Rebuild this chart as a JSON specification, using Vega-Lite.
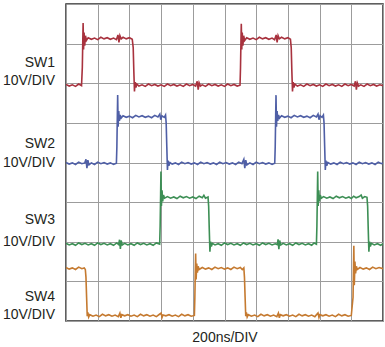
{
"$schema": "https://vega.github.io/schema/vega-lite/v6.json",
"width": 317, "height": 317,
"autosize": {"type": "none"},
"padding": {"left": 66, "top": 4, "right": 2, "bottom": 26},
"background": "white",
"config": {"view": {"stroke": "#2b2b2b", "strokeWidth": 1.5}, "font": "Liberation Sans"},
"datasets": {
"sw1": [
{"t":0,"v":5.97},{"t":20,"v":5.93},{"t":40,"v":5.96},{"t":60,"v":5.92},{"t":80,"v":5.98},{"t":98,"v":5.94},
{"t":103,"v":6.4},{"t":106,"v":7.1},{"t":108,"v":7.52},{"t":111,"v":6.85},{"t":114,"v":7.28},{"t":118,"v":6.95},{"t":123,"v":7.2},{"t":129,"v":7.08},
{"t":140,"v":7.15},{"t":160,"v":7.11},{"t":180,"v":7.14},{"t":200,"v":7.10},{"t":220,"v":7.16},{"t":240,"v":7.12},{"t":260,"v":7.15},{"t":280,"v":7.11},{"t":300,"v":7.14},{"t":318,"v":7.10},{"t":328,"v":7.22},{"t":334,"v":7.03},{"t":340,"v":7.2},{"t":348,"v":7.12},{"t":360,"v":7.16},{"t":380,"v":7.12},{"t":400,"v":7.15},{"t":418,"v":7.11},
{"t":424,"v":6.9},{"t":428,"v":6.3},{"t":432,"v":5.79},{"t":436,"v":6.03},{"t":441,"v":5.89},{"t":447,"v":5.98},
{"t":460,"v":5.93},{"t":480,"v":5.96},{"t":500,"v":5.92},{"t":520,"v":5.98},{"t":540,"v":5.94},{"t":560,"v":5.97},{"t":580,"v":5.93},{"t":600,"v":5.96},{"t":620,"v":5.92},{"t":640,"v":5.98},{"t":660,"v":5.94},{"t":680,"v":5.97},{"t":700,"v":5.93},{"t":720,"v":5.96},{"t":740,"v":5.92},{"t":760,"v":5.98},{"t":780,"v":5.94},{"t":800,"v":5.97},{"t":818,"v":5.93},{"t":828,"v":6.05},{"t":834,"v":5.84},{"t":840,"v":6.01},{"t":848,"v":5.93},{"t":860,"v":5.96},{"t":880,"v":5.92},{"t":900,"v":5.98},{"t":920,"v":5.94},{"t":940,"v":5.97},{"t":960,"v":5.93},{"t":980,"v":5.96},{"t":1000,"v":5.92},{"t":1020,"v":5.98},{"t":1040,"v":5.94},{"t":1060,"v":5.97},{"t":1080,"v":5.93},{"t":1098,"v":5.95},
{"t":1101,"v":6.4},{"t":1104,"v":7.1},{"t":1106,"v":7.5},{"t":1109,"v":6.85},{"t":1112,"v":7.28},{"t":1116,"v":6.95},{"t":1121,"v":7.2},{"t":1127,"v":7.08},
{"t":1140,"v":7.15},{"t":1160,"v":7.11},{"t":1180,"v":7.14},{"t":1200,"v":7.10},{"t":1220,"v":7.16},{"t":1240,"v":7.12},{"t":1260,"v":7.15},{"t":1280,"v":7.11},{"t":1300,"v":7.14},{"t":1316,"v":7.10},{"t":1326,"v":7.22},{"t":1332,"v":7.03},{"t":1338,"v":7.2},{"t":1346,"v":7.12},{"t":1360,"v":7.16},{"t":1380,"v":7.12},{"t":1400,"v":7.15},{"t":1416,"v":7.11},
{"t":1421,"v":6.9},{"t":1425,"v":6.3},{"t":1429,"v":5.79},{"t":1433,"v":6.03},{"t":1438,"v":5.89},{"t":1444,"v":5.98},
{"t":1460,"v":5.93},{"t":1480,"v":5.96},{"t":1500,"v":5.92},{"t":1520,"v":5.98},{"t":1540,"v":5.94},{"t":1560,"v":5.97},{"t":1580,"v":5.93},{"t":1600,"v":5.96},{"t":1620,"v":5.92},{"t":1640,"v":5.98},{"t":1660,"v":5.94},{"t":1680,"v":5.97},{"t":1700,"v":5.93},{"t":1720,"v":5.96},{"t":1740,"v":5.92},{"t":1760,"v":5.98},{"t":1780,"v":5.94},{"t":1800,"v":5.97},{"t":1818,"v":5.93},{"t":1826,"v":6.05},{"t":1832,"v":5.84},{"t":1838,"v":6.01},{"t":1846,"v":5.93},{"t":1860,"v":5.96},{"t":1880,"v":5.92},{"t":1900,"v":5.98},{"t":1920,"v":5.94},{"t":1940,"v":5.97},{"t":1960,"v":5.93},{"t":1980,"v":5.96},{"t":2000,"v":5.94}
],
"sw2": [
{"t":0,"v":4.00},{"t":20,"v":3.96},{"t":40,"v":3.99},{"t":60,"v":3.95},{"t":80,"v":4.01},{"t":100,"v":3.97},{"t":118,"v":3.99},{"t":126,"v":4.08},{"t":132,"v":3.86},{"t":138,"v":4.06},{"t":145,"v":3.94},{"t":160,"v":3.99},{"t":180,"v":3.95},{"t":200,"v":4.01},{"t":220,"v":3.97},{"t":240,"v":4.00},{"t":260,"v":3.96},{"t":280,"v":3.99},{"t":300,"v":3.95},{"t":318,"v":3.98},
{"t":321,"v":4.4},{"t":324,"v":5.2},{"t":326,"v":5.70},{"t":329,"v":4.9},{"t":333,"v":5.3},{"t":337,"v":5.05},{"t":342,"v":5.2},{"t":348,"v":5.12},
{"t":360,"v":5.18},{"t":380,"v":5.14},{"t":400,"v":5.17},{"t":420,"v":5.13},{"t":440,"v":5.19},{"t":460,"v":5.15},{"t":480,"v":5.18},{"t":500,"v":5.14},{"t":520,"v":5.17},{"t":540,"v":5.13},{"t":560,"v":5.19},{"t":580,"v":5.15},{"t":592,"v":5.22},{"t":598,"v":5.08},{"t":605,"v":5.18},{"t":620,"v":5.14},{"t":628,"v":5.2},
{"t":632,"v":5.0},{"t":636,"v":4.4},{"t":640,"v":3.81},{"t":644,"v":4.05},{"t":649,"v":3.92},{"t":656,"v":4.0},
{"t":670,"v":3.96},{"t":690,"v":3.99},{"t":710,"v":3.95},{"t":730,"v":4.01},{"t":750,"v":3.97},{"t":770,"v":4.00},{"t":790,"v":3.96},{"t":810,"v":3.99},{"t":830,"v":3.95},{"t":850,"v":4.01},{"t":870,"v":3.97},{"t":890,"v":4.00},{"t":910,"v":3.96},{"t":930,"v":3.99},{"t":950,"v":3.95},{"t":970,"v":4.01},{"t":990,"v":3.97},{"t":1010,"v":4.00},{"t":1030,"v":3.96},{"t":1050,"v":3.99},{"t":1070,"v":3.95},{"t":1090,"v":4.01},{"t":1110,"v":3.97},{"t":1122,"v":4.08},{"t":1128,"v":3.86},{"t":1134,"v":4.06},{"t":1141,"v":3.94},{"t":1160,"v":3.99},{"t":1180,"v":3.95},{"t":1200,"v":4.01},{"t":1220,"v":3.97},{"t":1240,"v":4.00},{"t":1260,"v":3.96},{"t":1280,"v":3.99},{"t":1300,"v":3.95},{"t":1317,"v":3.98},
{"t":1320,"v":4.4},{"t":1323,"v":5.2},{"t":1325,"v":5.70},{"t":1328,"v":4.9},{"t":1332,"v":5.3},{"t":1336,"v":5.05},{"t":1341,"v":5.2},{"t":1347,"v":5.12},
{"t":1360,"v":5.18},{"t":1380,"v":5.14},{"t":1400,"v":5.17},{"t":1420,"v":5.13},{"t":1440,"v":5.19},{"t":1460,"v":5.15},{"t":1480,"v":5.18},{"t":1500,"v":5.14},{"t":1520,"v":5.17},{"t":1540,"v":5.13},{"t":1560,"v":5.19},{"t":1580,"v":5.15},{"t":1590,"v":5.22},{"t":1596,"v":5.08},{"t":1603,"v":5.18},{"t":1615,"v":5.14},{"t":1624,"v":5.2},
{"t":1628,"v":5.0},{"t":1632,"v":4.4},{"t":1636,"v":3.81},{"t":1640,"v":4.05},{"t":1645,"v":3.92},{"t":1652,"v":4.0},
{"t":1670,"v":3.96},{"t":1690,"v":3.99},{"t":1710,"v":3.95},{"t":1730,"v":4.01},{"t":1750,"v":3.97},{"t":1770,"v":4.00},{"t":1790,"v":3.96},{"t":1810,"v":3.99},{"t":1830,"v":3.95},{"t":1850,"v":4.01},{"t":1870,"v":3.97},{"t":1890,"v":4.00},{"t":1910,"v":3.96},{"t":1930,"v":3.99},{"t":1950,"v":3.95},{"t":1970,"v":4.01},{"t":1990,"v":3.97},{"t":2000,"v":3.99}
],
"sw3": [
{"t":0,"v":1.96},{"t":20,"v":1.92},{"t":40,"v":1.95},{"t":60,"v":1.91},{"t":80,"v":1.97},{"t":100,"v":1.93},{"t":120,"v":1.96},{"t":140,"v":1.92},{"t":160,"v":1.95},{"t":180,"v":1.91},{"t":200,"v":1.97},{"t":220,"v":1.93},{"t":240,"v":1.96},{"t":260,"v":1.92},{"t":280,"v":1.95},{"t":300,"v":1.91},{"t":320,"v":1.97},{"t":332,"v":1.93},{"t":338,"v":2.05},{"t":343,"v":1.82},{"t":348,"v":2.03},{"t":355,"v":1.92},{"t":370,"v":1.96},{"t":390,"v":1.92},{"t":410,"v":1.95},{"t":430,"v":1.91},{"t":450,"v":1.97},{"t":470,"v":1.93},{"t":490,"v":1.96},{"t":510,"v":1.92},{"t":530,"v":1.95},{"t":550,"v":1.91},{"t":570,"v":1.97},{"t":591,"v":1.94},
{"t":594,"v":2.4},{"t":597,"v":3.2},{"t":599,"v":3.77},{"t":602,"v":2.9},{"t":606,"v":3.3},{"t":610,"v":3.02},{"t":615,"v":3.18},{"t":622,"v":3.1},
{"t":640,"v":3.14},{"t":660,"v":3.10},{"t":680,"v":3.13},{"t":700,"v":3.09},{"t":720,"v":3.15},{"t":740,"v":3.11},{"t":760,"v":3.14},{"t":780,"v":3.10},{"t":800,"v":3.13},{"t":820,"v":3.09},{"t":840,"v":3.15},{"t":860,"v":3.11},{"t":870,"v":3.17},{"t":880,"v":3.1},{"t":896,"v":3.13},
{"t":900,"v":2.9},{"t":904,"v":2.3},{"t":908,"v":1.75},{"t":912,"v":2.0},{"t":917,"v":1.88},{"t":924,"v":1.96},
{"t":940,"v":1.92},{"t":960,"v":1.95},{"t":980,"v":1.91},{"t":1000,"v":1.97},{"t":1020,"v":1.93},{"t":1040,"v":1.96},{"t":1060,"v":1.92},{"t":1080,"v":1.95},{"t":1100,"v":1.91},{"t":1120,"v":1.97},{"t":1140,"v":1.93},{"t":1160,"v":1.96},{"t":1180,"v":1.92},{"t":1200,"v":1.95},{"t":1220,"v":1.91},{"t":1240,"v":1.97},{"t":1260,"v":1.93},{"t":1280,"v":1.96},{"t":1300,"v":1.92},{"t":1320,"v":1.95},{"t":1333,"v":1.93},{"t":1338,"v":2.06},{"t":1343,"v":1.81},{"t":1348,"v":2.03},{"t":1355,"v":1.92},{"t":1370,"v":1.96},{"t":1390,"v":1.92},{"t":1410,"v":1.95},{"t":1430,"v":1.91},{"t":1450,"v":1.97},{"t":1470,"v":1.93},{"t":1490,"v":1.96},{"t":1510,"v":1.92},{"t":1530,"v":1.95},{"t":1550,"v":1.91},{"t":1565,"v":1.97},{"t":1580,"v":1.94},
{"t":1583,"v":2.4},{"t":1586,"v":3.2},{"t":1588,"v":3.77},{"t":1591,"v":2.9},{"t":1595,"v":3.3},{"t":1599,"v":3.02},{"t":1604,"v":3.18},{"t":1611,"v":3.1},
{"t":1625,"v":3.14},{"t":1645,"v":3.10},{"t":1665,"v":3.13},{"t":1685,"v":3.09},{"t":1705,"v":3.15},{"t":1725,"v":3.11},{"t":1745,"v":3.14},{"t":1765,"v":3.10},{"t":1785,"v":3.13},{"t":1800,"v":3.09},{"t":1815,"v":3.15},{"t":1830,"v":3.11},{"t":1850,"v":3.14},{"t":1862,"v":3.18},{"t":1870,"v":3.1},{"t":1885,"v":3.14},{"t":1899,"v":3.12},
{"t":1903,"v":2.9},{"t":1907,"v":2.3},{"t":1911,"v":1.75},{"t":1915,"v":2.0},{"t":1920,"v":1.88},{"t":1927,"v":1.96},
{"t":1945,"v":1.92},{"t":1965,"v":1.95},{"t":1985,"v":1.91},{"t":2000,"v":1.95}
],
"sw4": [
{"t":0,"v":1.35},{"t":20,"v":1.31},{"t":40,"v":1.34},{"t":60,"v":1.30},{"t":80,"v":1.36},{"t":100,"v":1.32},{"t":115,"v":1.34},{"t":122,"v":1.30},
{"t":126,"v":1.1},{"t":130,"v":0.6},{"t":134,"v":0.12},{"t":138,"v":0.22},{"t":143,"v":0.1},{"t":150,"v":0.16},
{"t":170,"v":0.12},{"t":190,"v":0.15},{"t":210,"v":0.11},{"t":230,"v":0.17},{"t":250,"v":0.13},{"t":270,"v":0.16},{"t":290,"v":0.12},{"t":310,"v":0.15},{"t":330,"v":0.11},{"t":340,"v":0.2},{"t":346,"v":0.08},{"t":352,"v":0.16},{"t":370,"v":0.13},{"t":390,"v":0.16},{"t":410,"v":0.12},{"t":430,"v":0.15},{"t":450,"v":0.11},{"t":470,"v":0.17},{"t":490,"v":0.13},{"t":510,"v":0.16},{"t":530,"v":0.12},{"t":550,"v":0.15},{"t":570,"v":0.11},{"t":590,"v":0.17},{"t":600,"v":0.2},{"t":606,"v":0.09},{"t":612,"v":0.15},{"t":630,"v":0.13},{"t":650,"v":0.16},{"t":670,"v":0.12},{"t":690,"v":0.15},{"t":710,"v":0.11},{"t":730,"v":0.17},{"t":750,"v":0.13},{"t":770,"v":0.16},{"t":790,"v":0.12},{"t":810,"v":0.14},
{"t":813,"v":0.6},{"t":816,"v":1.3},{"t":818,"v":1.7},{"t":821,"v":1.05},{"t":825,"v":1.45},{"t":829,"v":1.22},{"t":834,"v":1.38},{"t":840,"v":1.3},
{"t":860,"v":1.35},{"t":880,"v":1.31},{"t":900,"v":1.34},{"t":920,"v":1.30},{"t":940,"v":1.36},{"t":960,"v":1.32},{"t":980,"v":1.35},{"t":1000,"v":1.31},{"t":1020,"v":1.34},{"t":1040,"v":1.30},{"t":1060,"v":1.36},{"t":1080,"v":1.32},{"t":1100,"v":1.35},{"t":1112,"v":1.3},{"t":1122,"v":1.34},
{"t":1126,"v":1.1},{"t":1130,"v":0.6},{"t":1134,"v":0.12},{"t":1138,"v":0.22},{"t":1143,"v":0.1},{"t":1150,"v":0.16},
{"t":1170,"v":0.12},{"t":1190,"v":0.15},{"t":1210,"v":0.11},{"t":1230,"v":0.17},{"t":1250,"v":0.13},{"t":1270,"v":0.16},{"t":1290,"v":0.12},{"t":1310,"v":0.15},{"t":1330,"v":0.11},{"t":1340,"v":0.2},{"t":1346,"v":0.08},{"t":1352,"v":0.16},{"t":1370,"v":0.13},{"t":1390,"v":0.16},{"t":1410,"v":0.12},{"t":1430,"v":0.15},{"t":1450,"v":0.11},{"t":1470,"v":0.17},{"t":1490,"v":0.13},{"t":1510,"v":0.16},{"t":1530,"v":0.12},{"t":1550,"v":0.15},{"t":1570,"v":0.11},{"t":1590,"v":0.2},{"t":1596,"v":0.09},{"t":1602,"v":0.16},{"t":1620,"v":0.13},{"t":1640,"v":0.16},{"t":1660,"v":0.12},{"t":1680,"v":0.15},{"t":1700,"v":0.11},{"t":1720,"v":0.17},{"t":1740,"v":0.13},{"t":1760,"v":0.16},{"t":1780,"v":0.12},{"t":1800,"v":0.14},
{"t":1811,"v":0.6},{"t":1814,"v":1.4},{"t":1816,"v":1.9},{"t":1819,"v":0.9},{"t":1823,"v":1.5},{"t":1827,"v":1.2},{"t":1832,"v":1.38},{"t":1838,"v":1.3},
{"t":1855,"v":1.35},{"t":1875,"v":1.31},{"t":1895,"v":1.34},{"t":1915,"v":1.30},{"t":1935,"v":1.36},{"t":1955,"v":1.32},{"t":1975,"v":1.35},{"t":2000,"v":1.32}
],
"labels": [
{"label":"SW1","t":-69,"v":6.51},{"label":"10V/DIV","t":-69,"v":6.06},
{"label":"SW2","t":-69,"v":4.47},{"label":"10V/DIV","t":-69,"v":3.99},
{"label":"SW3","t":-69,"v":2.55},{"label":"10V/DIV","t":-69,"v":2.0},
{"label":"SW4","t":-69,"v":0.61},{"label":"10V/DIV","t":-69,"v":0.15}
]
},
"encoding": {
"x": {"field": "t", "type": "quantitative",
  "scale": {"domain": [0, 2000], "nice": false, "zero": false},
  "axis": {"values": [0,200,400,600,800,1000,1200,1400,1600,1800,2000], "labels": false, "ticks": false, "domain": false,
    "grid": true, "gridColor": "#9c9c9c", "gridWidth": 1, "gridOpacity": 1,
    "title": "200ns/DIV", "titleFont": "Liberation Sans", "titleFontSize": 14, "titleFontWeight": "normal", "titleColor": "#231f20", "titlePadding": 9}},
"y": {"field": "v", "type": "quantitative",
  "scale": {"domain": [0, 8], "nice": false, "zero": false},
  "axis": {"values": [0,1,2,3,4,5,6,7,8], "labels": false, "ticks": false, "domain": false,
    "grid": true, "gridColor": "#9c9c9c", "gridWidth": 1, "gridOpacity": 1, "title": null}}
},
"layer": [
{"data": {"name": "sw1"}, "mark": {"type": "line", "color": "#a8323e", "strokeWidth": 1.6, "clip": true}},
{"data": {"name": "sw2"}, "mark": {"type": "line", "color": "#4f5fa6", "strokeWidth": 1.6, "clip": true}},
{"data": {"name": "sw3"}, "mark": {"type": "line", "color": "#3d8f55", "strokeWidth": 1.6, "clip": true}},
{"data": {"name": "sw4"}, "mark": {"type": "line", "color": "#c57a30", "strokeWidth": 1.6, "clip": true}},
{"data": {"name": "labels"}, "mark": {"type": "text", "align": "right", "baseline": "middle", "font": "Liberation Sans", "fontSize": 14, "color": "#231f20"},
 "encoding": {"text": {"field": "label", "type": "nominal"}}}
]
}
